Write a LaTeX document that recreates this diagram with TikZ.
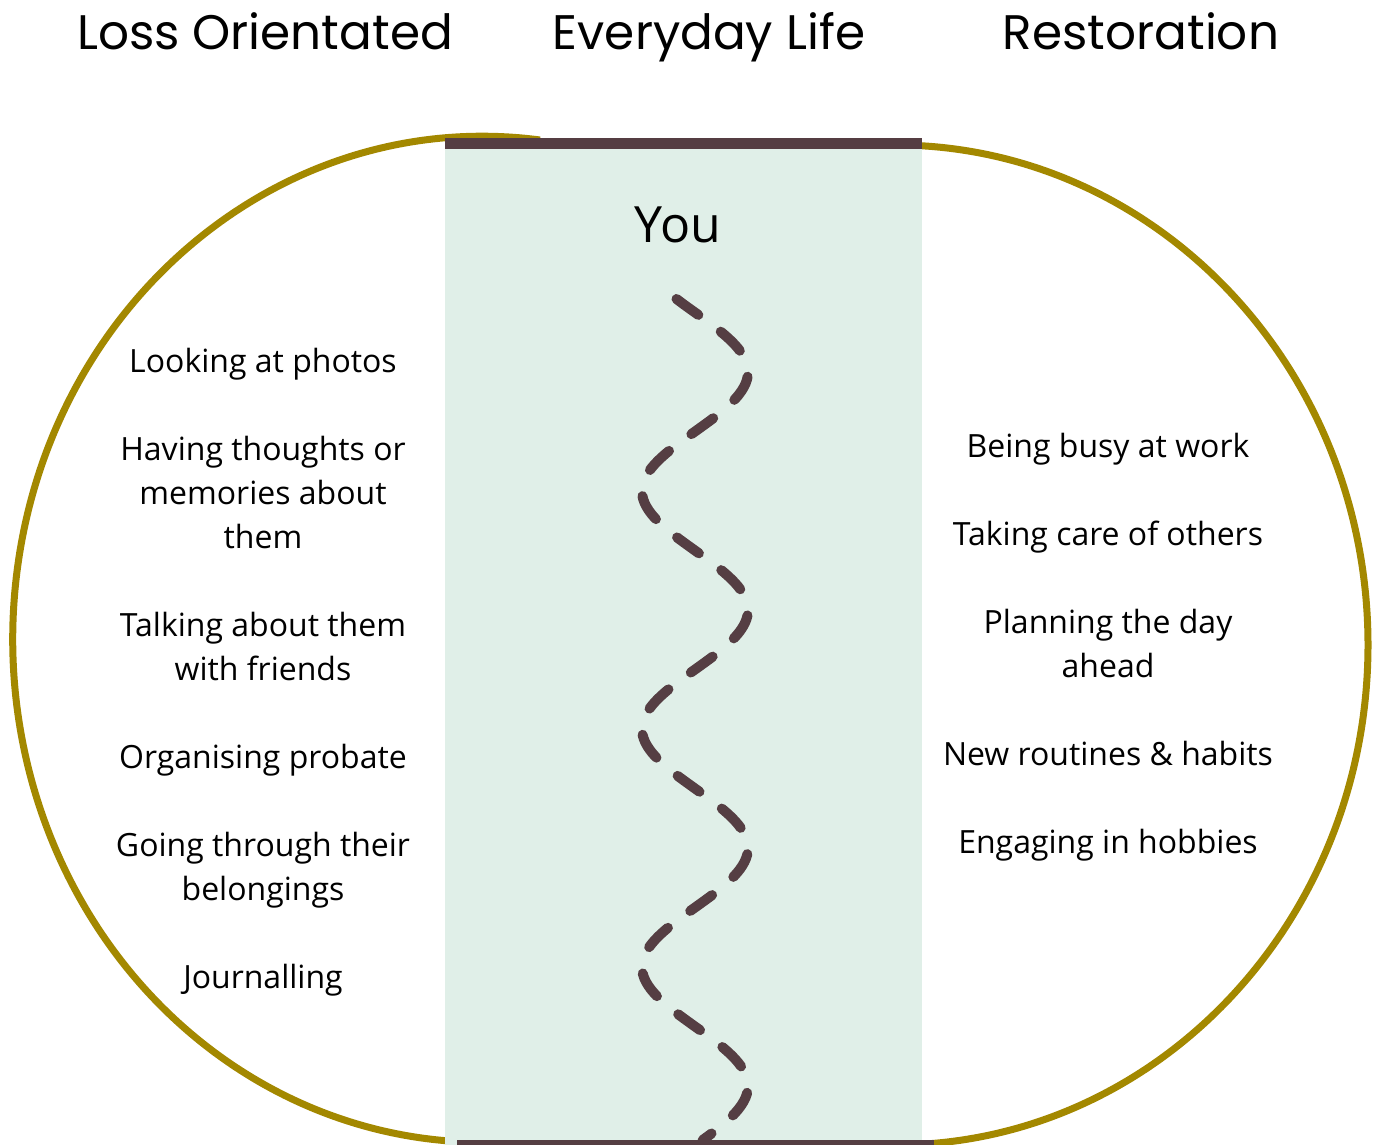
\documentclass[tikz,border=0pt]{standalone}
\usepackage{fontspec}
\newfontfamily\headfont{Poppins}
\newfontfamily\youfont{Open Sans}
\newfontfamily\notefont{Open Sans}
\definecolor{rim}{HTML}{A38800}
\definecolor{plum}{HTML}{553E43}
\definecolor{mint}{HTML}{E0EFE8}
\tikzset{
  rimline/.style={draw=rim, line width=7pt},
  bar/.style={fill=plum},
  wave/.style={draw=plum, line width=10pt, line cap=round, dash pattern=on 27pt off 28pt},
  head/.style={font=\headfont\fontsize{48.5}{58}\selectfont, anchor=base, inner sep=0pt},
  you/.style={font=\youfont\fontsize{50}{60}\selectfont, anchor=base, inner sep=0pt},
  % multi-line notes sit on the baseline of their last line
  note/.style={font=\notefont\fontsize{32}{44}\selectfont, align=center, anchor=base, inner sep=0pt},
}
\begin{document}
\begin{tikzpicture}[x=1pt, y=-1pt]
  \useasboundingbox (0,0) rectangle (1376,1145);
  \clip (0,0) rectangle (1376,1145);

  % outer rim: two half ellipses joined behind the middle band
  \draw[rimline] (540,140) arc[start angle=-83, end angle=-270, x radius=470, y radius=503];
  \draw[rimline] (895,145) arc[start angle=-90, end angle=90, x radius=473, y radius=500];

  % everyday life band with its top and bottom bars
  \fill[mint] (445,143) rectangle (922,1145);
  \fill[bar] (445,138) rectangle (922,149);
  \fill[bar] (457,1140) rectangle (934,1152);

  % meandering path through the band
  \draw[wave] plot[domain=299:1140, samples=240, smooth] ({695+53*sin((\x-372)/238*360+90)}, \x);

  % column headings
  \node[head] (hloss) at (265,50) {Loss Orientated};
  \node[head] (hlife) at (709,50) {Everyday Life};
  \node[head] (hrest) at (1141,50) {Restoration};

  \node[you] (you) at (678,242) {You};

  % loss orientated activities
  \node[note] (l1) at (263,372) {Looking at photos};
  \node[note] (l2) at (263,548) {Having thoughts or\\memories about\\them};
  \node[note] (l3) at (263,680) {Talking about them\\with friends};
  \node[note] (l4) at (263,768) {Organising probate};
  \node[note] (l5) at (263,900) {Going through their\\belongings};
  \node[note] (l6) at (263,988) {Journalling};

  % restoration activities
  \node[note] (r1) at (1108,457) {Being busy at work};
  \node[note] (r2) at (1108,545) {Taking care of others};
  \node[note] (r3) at (1108,677) {Planning the day\\ahead};
  \node[note] (r4) at (1108,765) {New routines \& habits};
  \node[note] (r5) at (1108,853) {Engaging in hobbies};
\end{tikzpicture}
\end{document}
